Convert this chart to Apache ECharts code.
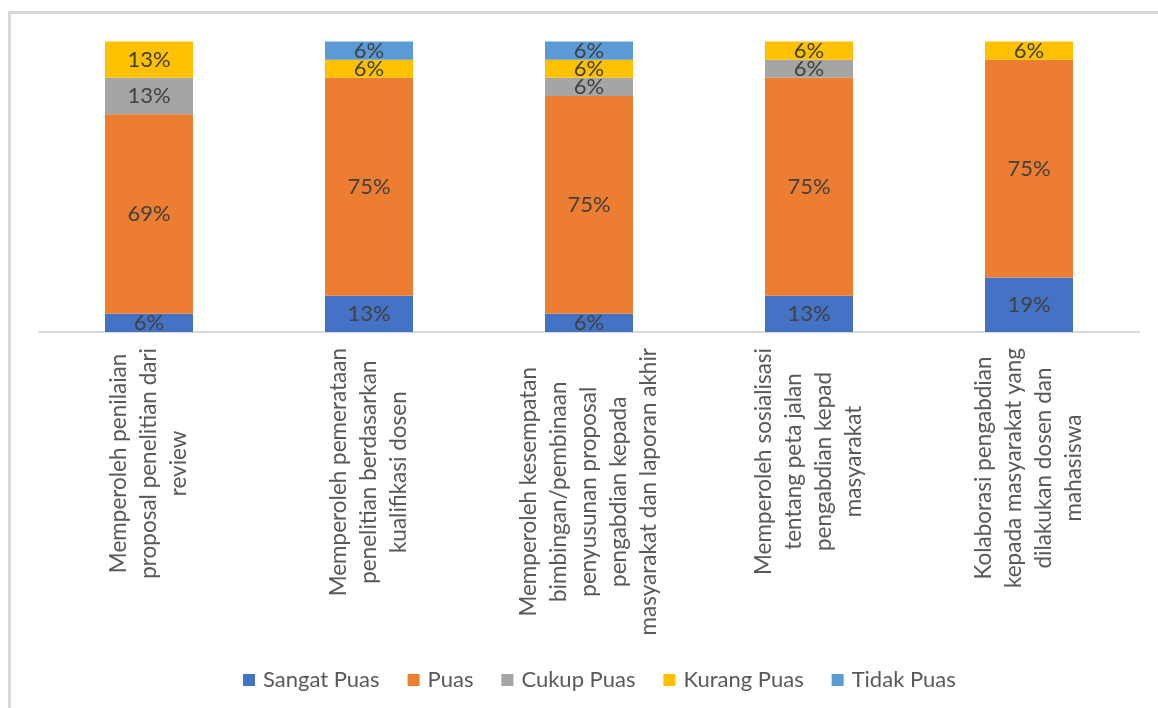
<!DOCTYPE html>
<html>
<head>
<meta charset="utf-8">
<script src="https://cdn.jsdelivr.net/npm/echarts@6/dist/echarts.min.js"></script>
<style>
  html, body { margin: 0; padding: 0; background: #ffffff; overflow: hidden; }
  #frame {
    position: absolute; left: 8px; top: 11px; width: 1400px; height: 1000px;
    border-left: 3px solid #d9d9d9; border-top: 3px solid #d9d9d9;
  }
  #chart { position: absolute; left: 0; top: 0; width: 1158px; height: 708px; }
</style>
</head>
<body>
<div id="frame"></div>
<div id="chart"></div>
<script>
// Survey items (category axis), with their wrapped lines
const categories = [
  'Memperoleh penilaian\nproposal penelitian dari\nreview',
  'Memperoleh pemerataan\npenelitian berdasarkan\nkualifikasi dosen',
  'Memperoleh kesempatan\nbimbingan/pembinaan\npenyusunan proposal\npengabdian kepada\nmasyarakat dan laporan akhir',
  'Memperoleh sosialisasi\ntentang peta jalan\npengabdian kepad\nmasyarakat',
  'Kolaborasi pengabdian\nkepada masyarakat yang\ndilakukan dosen dan\nmahasiswa'
];

// Share of respondents per answer (percent)
const sangatPuas  = [6.25, 12.5, 6.25, 12.5, 18.75];
const puas        = [68.75, 75, 75, 75, 75];
const cukupPuas   = [12.5, 0, 6.25, 6.25, 0];
const kurangPuas  = [12.5, 6.25, 6.25, 6.25, 6.25];
const tidakPuas   = [0, 6.25, 6.25, 0, 0];

const seriesNames = ['Sangat Puas', 'Puas', 'Cukup Puas', 'Kurang Puas', 'Tidak Puas'];
const seriesData  = [sangatPuas, puas, cukupPuas, kurangPuas, tidakPuas];
const colors      = ['#4472C4', '#ED7D31', '#A5A5A5', '#FFC000', '#5B9BD5'];

const FONT = 'Lato, "Open Sans", sans-serif';

const chart = echarts.init(document.getElementById('chart'), null, { renderer: 'canvas' });

chart.setOption({
  animation: false,
  color: colors,
  textStyle: { fontFamily: FONT },
  grid: { left: 39, right: 19, top: 41.5, bottom: 376, containLabel: false },
  legend: {
    left: 238,
    top: 664,
    icon: 'rect',
    itemWidth: 12,
    itemHeight: 12,
    itemGap: 28,
    textStyle: { fontSize: 22, color: '#595959', fontFamily: FONT, padding: [0, 0, 0, 3] },
    data: seriesNames
  },
  xAxis: {
    type: 'category',
    data: categories,
    axisLine: { show: true, lineStyle: { color: '#d9d9d9', width: 2 } },
    axisTick: { show: false },
    axisLabel: {
      interval: 0,
      rotate: 90,
      margin: 16,
      hideOverlap: false,
      formatter: function (value) {
        return value.split('\n').map(function (l) { return '{c|' + l + '}'; }).join('\n');
      },
      rich: {
        c: { align: 'center', fontSize: 22.5, lineHeight: 30, color: '#595959', fontFamily: FONT }
      }
    }
  },
  yAxis: {
    type: 'value',
    min: 0,
    max: 100,
    show: false,
    splitLine: { show: false }
  },
  series: seriesNames.map(function (name, i) {
    return {
      name: name,
      type: 'bar',
      stack: 'total',
      barWidth: '40%',
      data: seriesData[i],
      itemStyle: { color: colors[i] },
      label: {
        show: true,
        position: 'inside',
        fontSize: 22,
        color: '#404040',
        fontFamily: FONT,
        formatter: function (p) {
          return p.value > 0 ? Math.round(p.value) + '%' : '';
        }
      }
    };
  })
});
</script>
</body>
</html>
